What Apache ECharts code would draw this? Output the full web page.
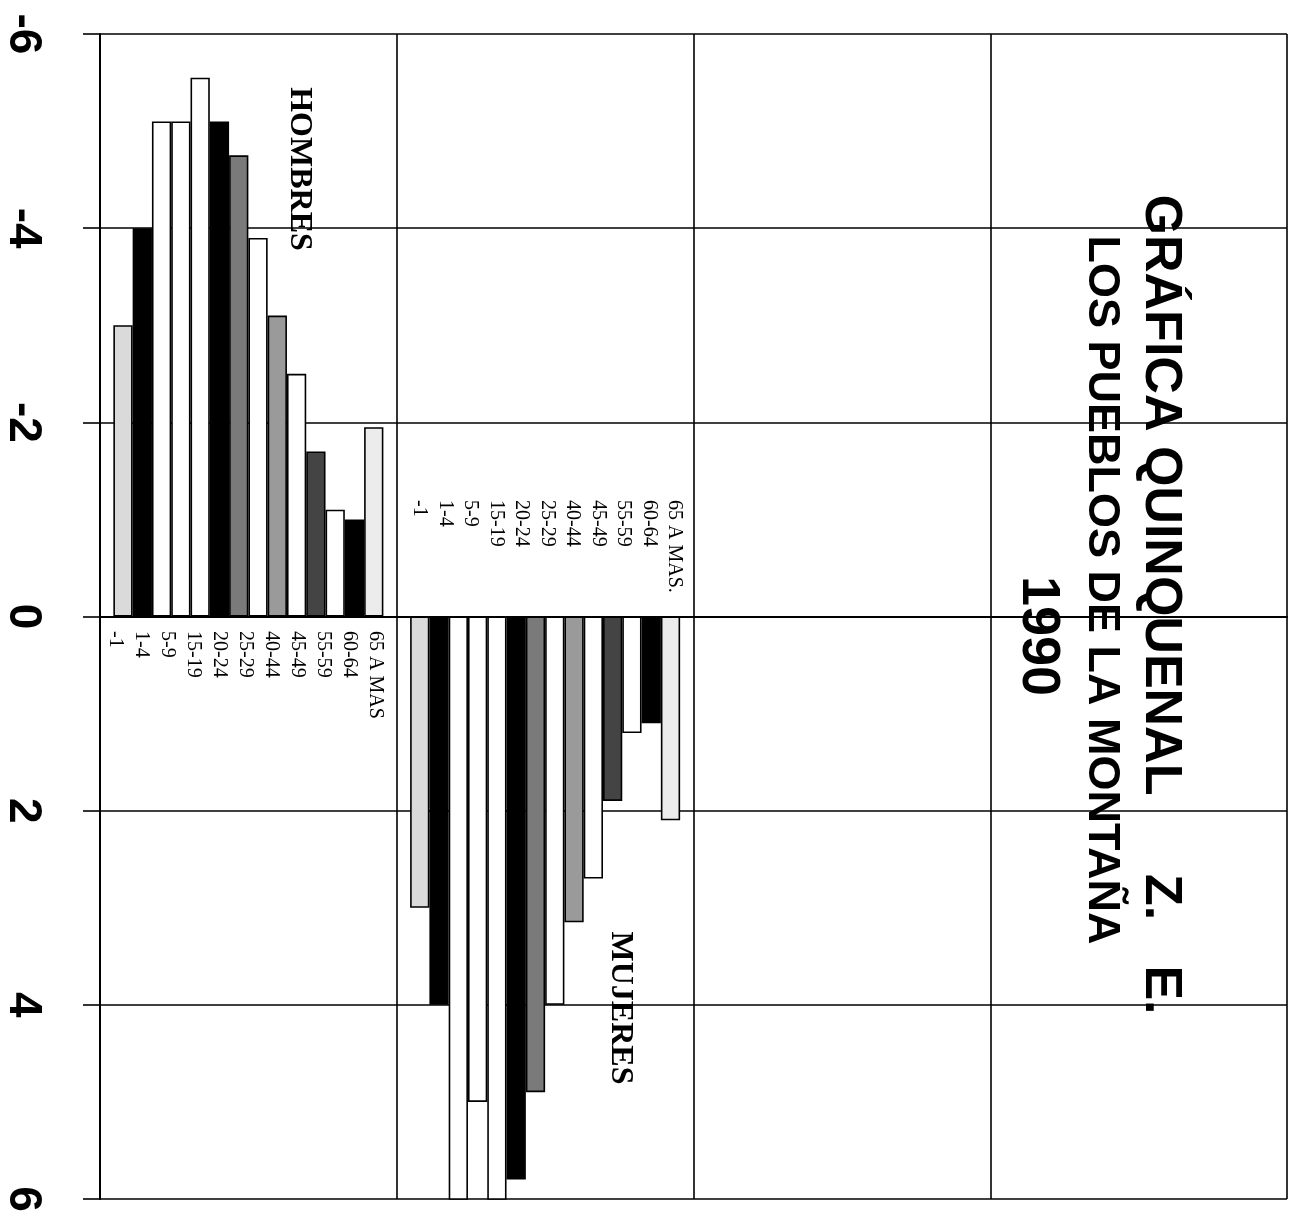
<!DOCTYPE html>
<html>
<head>
<meta charset="utf-8">
<script src="https://cdn.jsdelivr.net/npm/echarts@6/dist/echarts.min.js"></script>
<style>
html,body{margin:0;padding:0;background:#fff;}
#chart{width:1303px;height:1220px;}
</style>
</head>
<body>
<div id="chart"></div>
<script>
// Groups on the category axis (only the first two hold data)
var groups = ['HOMBRES', 'MUJERES', 'G3', 'G4'];
// One series per age group (14 bars per group)
var seriesNames = ['-1', '1-4', '5-9', '10-14', '15-19', '20-24', '25-29', '30-34', '35-39', '40-44', '45-49', '55-59', '60-64', '65 A MAS'];
// Values (men drawn as negative)
var hombres = [-3.0, -4.0, -5.1, -5.1, -5.55, -5.1, -4.75, -3.9, -3.1, -2.5, -1.7, -1.1, -1.0, -1.95];
var mujeres = [3.0, 4.0, 6.3, 5.0, 6.3, 5.8, 4.9, 4.0, 3.15, 2.7, 1.9, 1.2, 1.1, 2.1];
// Printed age labels
var labelsHombres = ['-1', '1-4', '5-9', '15-19', '20-24', '25-29', '40-44', '45-49', '55-59', '60-64', '65 A MAS'];
var labelsMujeres = ['-1', '1-4', '5-9', '15-19', '20-24', '25-29', '40-44', '45-49', '55-59', '60-64', '65 A MAS.'];
// Value axis ticks
var valueMin = -6, valueMax = 6, valueStep = 2;

var fills = ['#dadada', '#000000', '#ffffff', '#ffffff', '#ffffff', '#000000', '#7a7a7a', '#ffffff', '#9a9a9a', '#ffffff', '#444444', '#ffffff', '#000000', '#ececec'];

var series = seriesNames.map(function (n, i) {
  return {
    name: n,
    type: 'bar',
    xAxisIndex: 0,
    yAxisIndex: 0,
    data: [hombres[i], mujeres[i], null, null],
    barGap: '0%',
    barCategoryGap: '9%',
    clip: true,
    silent: true,
    itemStyle: { color: fills[i], borderColor: '#000', borderWidth: 1.6 }
  };
});

var serif = '"Liberation Serif", "DejaVu Serif", serif';
var sans = '"Liberation Sans", Arial, sans-serif';

function vtext(txt, x, y, size, family, weight) {
  return {
    type: 'text',
    x: x, y: y,
    rotation: -Math.PI / 2,
    z: 100,
    style: {
      text: txt,
      fill: '#000',
      fontSize: size,
      fontFamily: family,
      fontWeight: weight || 'bold',
      align: 'center', verticalAlign: 'middle',
      textAlign: 'center', textVerticalAlign: 'middle'
    }
  };
}

var option = {
  animation: false,
  backgroundColor: '#fff',
  grid: [
    { left: 100, right: 16, top: 34, bottom: 21 },
    { left: 102, width: 286, top: 597, height: 20 },
    { left: 407, width: 280, top: 470, height: 25 }
  ],
  xAxis: [
    {
      type: 'category', gridIndex: 0, data: groups,
      axisLine: { onZero: true, lineStyle: { color: '#000', width: 2 } },
      axisTick: { show: false },
      axisLabel: { show: false },
      splitLine: { show: true, interval: 0, lineStyle: { color: '#000', width: 1.6 } }
    },
    {
      type: 'category', gridIndex: 1, data: labelsHombres, position: 'bottom',
      axisLine: { show: false }, axisTick: { show: false }, splitLine: { show: false },
      axisLabel: { interval: 0, rotate: -90, margin: 14, fontSize: 20, fontFamily: serif, color: '#000', hideOverlap: false }
    },
    {
      type: 'category', gridIndex: 2, data: labelsMujeres, position: 'bottom',
      axisLine: { show: false }, axisTick: { show: false }, splitLine: { show: false },
      axisLabel: { interval: 0, rotate: -90, margin: 5, fontSize: 20, fontFamily: serif, color: '#000', hideOverlap: false }
    }
  ],
  yAxis: [
    {
      type: 'value', gridIndex: 0, inverse: true,
      min: valueMin, max: valueMax, interval: valueStep,
      axisLine: { show: true, lineStyle: { color: '#000', width: 2 } },
      axisTick: { show: true, length: 17, lineStyle: { color: '#000', width: 1.6 } },
      splitLine: { show: true, lineStyle: { color: '#000', width: 1.6 } },
      axisLabel: { rotate: -90, margin: 54, fontSize: 46, fontWeight: 'bold', fontFamily: sans, color: '#000' }
    },
    { type: 'value', gridIndex: 1, show: false },
    { type: 'value', gridIndex: 2, show: false }
  ],
  series: series,
  graphic: [
    vtext('HOMBRES', 299, 169, 32, serif),
    vtext('MUJERES', 620, 1008, 32, serif),
    vtext('GRÁFICA QUINQUENAL', 1160, 495, 52, sans),
    vtext('Z.', 1160, 897, 52, sans),
    vtext('E.', 1160, 990, 52, sans),
    vtext('LOS PUEBLOS DE LA MONTAÑA', 1101, 590, 45, sans),
    vtext('1990', 1038, 636, 54, sans)
  ]
};

var chart = echarts.init(document.getElementById('chart'), null, { renderer: 'canvas' });
chart.setOption(option);
</script>
</body>
</html>
